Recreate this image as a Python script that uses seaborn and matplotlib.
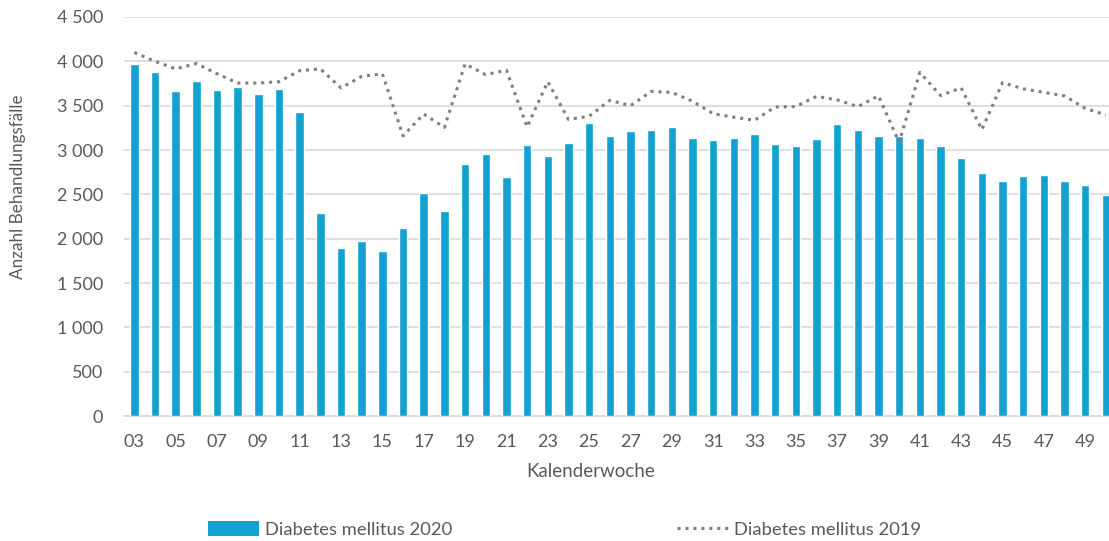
import numpy as np
import pandas as pd
import matplotlib
matplotlib.use("Agg")
import matplotlib.pyplot as plt
import seaborn as sns
from matplotlib.patches import Patch
from matplotlib.lines import Line2D
from matplotlib.ticker import FuncFormatter

# Kalenderwochen 03..50
weeks = [f"{w:02d}" for w in range(3, 51)]

# Diabetes mellitus 2020 (Balken)
cases_2020 = [3970, 3880, 3660, 3780, 3680, 3710, 3635, 3685, 3425, 2285,
              1895, 1975, 1865, 2120, 2510, 2315, 2845, 2955, 2695, 3055,
              2935, 3080, 3300, 3155, 3210, 3220, 3265, 3140, 3115, 3130,
              3175, 3070, 3045, 3125, 3290, 3225, 3155, 3155, 3130, 3050,
              2910, 2745, 2645, 2710, 2715, 2645, 2600, 2495]

# Diabetes mellitus 2019 (gepunktete Linie)
cases_2019 = [4100, 4000, 3915, 3975, 3860, 3755, 3755, 3770, 3895, 3915,
              3700, 3830, 3860, 3160, 3405, 3255, 3970, 3850, 3900, 3260,
              3770, 3345, 3380, 3560, 3500, 3660, 3650, 3550, 3410, 3370,
              3335, 3485, 3490, 3605, 3565, 3490, 3610, 3085, 3875, 3615,
              3700, 3230, 3760, 3690, 3650, 3610, 3470, 3395]

df = pd.DataFrame({"Woche": weeks, "y2020": cases_2020, "y2019": cases_2019})

bar_color = "#12a1d1"
line_color = "#7f7f7f"
text_color = "#595959"
grid_color = "#d9d9d9"

sns.set_theme(style="white")
plt.rcParams["font.family"] = ["Lato", "DejaVu Sans"]

fig = plt.figure(figsize=(11.09, 5.41), dpi=100)
ax = fig.add_axes([0.1118, 0.231, 0.8882, 0.7376])

sns.barplot(data=df, x="Woche", y="y2020", color=bar_color, width=0.41,
            saturation=1, ax=ax, zorder=3)
sns.lineplot(x=np.arange(len(weeks)), y=df["y2019"], color=line_color,
             linestyle=(0, (1, 1.6)), linewidth=2.2, ax=ax, zorder=4)

ax.set_ylim(0, 4500)
ax.set_xlim(-0.5, len(weeks) - 0.85)
ax.set_yticks(np.arange(0, 4501, 500))
ax.yaxis.set_major_formatter(FuncFormatter(lambda v, p: f"{int(v):,}".replace(",", " ")))
ax.set_xticks(np.arange(0, len(weeks), 2))
ax.set_xticklabels(weeks[::2])

ax.grid(axis="y", color=grid_color, linewidth=1.2, zorder=0)
ax.set_axisbelow(True)
for s in ["top", "right", "left"]:
    ax.spines[s].set_visible(False)
ax.spines["bottom"].set_color(grid_color)
ax.spines["bottom"].set_linewidth(1.2)
ax.tick_params(axis="both", length=0, labelsize=13, colors=text_color)
ax.tick_params(axis="y", pad=15)
ax.tick_params(axis="x", pad=13)

ax.set_xlabel("Kalenderwoche", fontsize=13.5, color=text_color, va="center")
ax.xaxis.set_label_coords(0.474, -0.14)
ax.set_ylabel("Anzahl Behandlungsfälle", fontsize=12.3, color=text_color, va="center")
ax.yaxis.set_label_coords(-0.108, 0.574)

handles = [Patch(facecolor=bar_color, edgecolor="none"),
           Line2D([0], [0], color=line_color, linestyle=(0, (1, 1.6)), linewidth=2.2)]
fig.legend(handles, ["Diabetes mellitus 2020", "Diabetes mellitus 2019"],
           loc="center", bbox_to_anchor=(0.509, 0.022), ncol=2, frameon=False,
           fontsize=13.2, labelcolor=text_color, handlelength=2.8,
           handletextpad=0.3, columnspacing=12.3, handleheight=0.9)

fig.savefig("out.png", dpi=100)
